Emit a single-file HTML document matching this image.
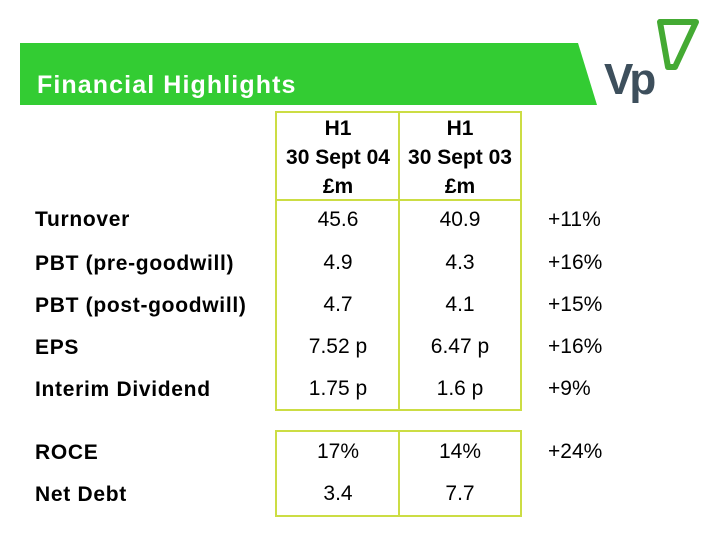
<!DOCTYPE html>
<html><head><meta charset="utf-8"><style>
body{margin:0;background:#fff;width:720px;height:540px;overflow:hidden}
svg{display:block;font-family:"Liberation Sans",Arial,sans-serif}
</style></head><body>
<svg width="720" height="540" viewBox="0 0 720 540">
<polygon points="20,43 578,43 597,105 20,105" fill="#33cc33"/>
<text x="37" y="93" fill="#fff" font-size="25" font-weight="bold" letter-spacing="1.1">Financial Highlights</text>
<g>
<polygon points="660,22 696,22 675,67 668,67" fill="none" stroke="#44aa33" stroke-width="6" stroke-linejoin="round"/>
<text x="604" y="94" fill="#3d4f5c" font-size="44" font-weight="bold" letter-spacing="-4">Vp</text>
</g>
<g fill="none" stroke="#ccdd44" stroke-width="2">
<rect x="276" y="112" width="245" height="298"/>
<line x1="399" y1="112" x2="399" y2="410"/>
<line x1="276" y1="200" x2="521" y2="200"/>
<rect x="276" y="431" width="245" height="85"/>
<line x1="399" y1="431" x2="399" y2="516"/>
</g>
<g font-size="21" font-weight="bold" fill="#000" text-anchor="middle">
<text x="338" y="135">H1</text><text x="338" y="164">30 Sept 04</text><text x="338" y="193">£m</text>
<text x="460" y="135">H1</text><text x="460" y="164">30 Sept 03</text><text x="460" y="193">£m</text>
</g>
<g font-size="21" font-weight="bold" fill="#000" letter-spacing="0.7">
<text x="35" y="226">Turnover</text>
<text x="35" y="270">PBT (pre-goodwill)</text>
<text x="35" y="312">PBT (post-goodwill)</text>
<text x="35" y="354">EPS</text>
<text x="35" y="396">Interim Dividend</text>
<text x="35" y="459">ROCE</text>
<text x="35" y="501">Net Debt</text>
</g>
<g font-size="21" fill="#000" text-anchor="middle">
<text x="338" y="226">45.6</text><text x="338" y="269">4.9</text><text x="338" y="311">4.7</text>
<text x="338" y="353">7.52 p</text><text x="338" y="395">1.75 p</text><text x="338" y="458">17%</text><text x="338" y="500">3.4</text>
</g>
<g font-size="21" fill="#000" text-anchor="middle">
<text x="460" y="226">40.9</text><text x="460" y="269">4.3</text><text x="460" y="311">4.1</text>
<text x="460" y="353">6.47 p</text><text x="460" y="395">1.6 p</text><text x="460" y="458">14%</text><text x="460" y="500">7.7</text>
</g>
<g font-size="21" fill="#000">
<text x="548" y="226">+11%</text><text x="548" y="269">+16%</text><text x="548" y="311">+15%</text>
<text x="548" y="353">+16%</text><text x="548" y="395">+9%</text><text x="548" y="458">+24%</text>
</g>
</svg>
</body></html>
